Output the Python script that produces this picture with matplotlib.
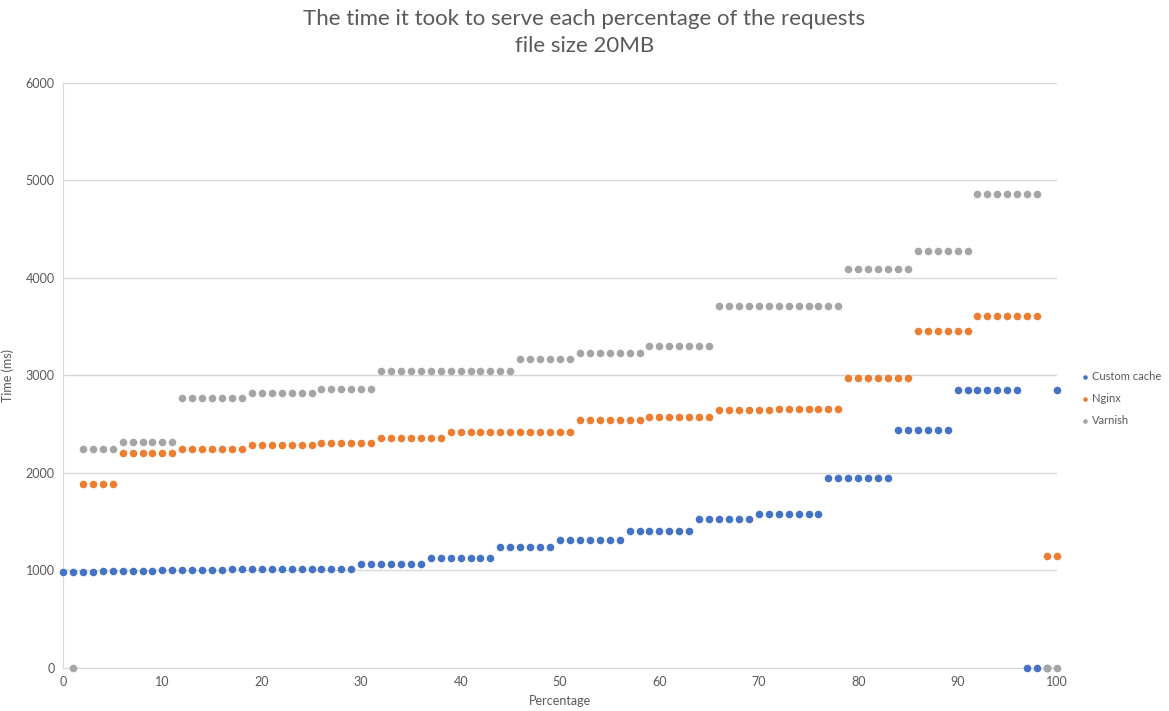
import numpy as np
import matplotlib.pyplot as plt

# percentage of requests (x axis)
percentage = list(range(0, 101))

# time in ms, one value per percentage (nan = no point)
nan = np.nan
custom_cache = [980, 980, 980, 980, 990, 990, 990, 990, 990, 990,
                1000, 1000, 1000, 1000, 1000, 1000, 1000, 1020, 1020, 1020,
                1020, 1020, 1020, 1020, 1020, 1020, 1020, 1020, 1020, 1020,
                1065, 1065, 1065, 1065, 1065, 1065, 1065, 1125, 1125, 1125,
                1125, 1125, 1125, 1125, 1240, 1240, 1240, 1240, 1240, 1240,
                1315, 1315, 1315, 1315, 1315, 1315, 1315, 1405, 1405, 1405,
                1405, 1405, 1405, 1405, 1530, 1530, 1530, 1530, 1530, 1530,
                1575, 1575, 1575, 1575, 1575, 1575, 1575, 1945, 1945, 1945,
                1945, 1945, 1945, 1945, 2445, 2445, 2445, 2445, 2445, 2445,
                2850, 2850, 2850, 2850, 2850, 2850, 2850, 0, 0, 0,
                2850]
nginx = [nan, nan, 1885, 1885, 1885, 1885, 2205, 2205, 2205, 2205,
         2205, 2205, 2245, 2245, 2245, 2245, 2245, 2245, 2245, 2290,
         2290, 2290, 2290, 2290, 2290, 2290, 2310, 2310, 2310, 2310,
         2310, 2310, 2360, 2360, 2360, 2360, 2360, 2360, 2360, 2425,
         2425, 2425, 2425, 2425, 2425, 2425, 2425, 2425, 2425, 2425,
         2425, 2425, 2540, 2540, 2540, 2540, 2540, 2540, 2540, 2570,
         2570, 2570, 2570, 2570, 2570, 2570, 2645, 2645, 2645, 2645,
         2645, 2645, 2655, 2655, 2655, 2655, 2655, 2655, 2655, 2975,
         2975, 2975, 2975, 2975, 2975, 2975, 3460, 3460, 3460, 3460,
         3460, 3460, 3615, 3615, 3615, 3615, 3615, 3615, 3615, 1150,
         1150]
varnish = [nan, 0, 2245, 2245, 2245, 2245, 2320, 2320, 2320, 2320,
           2320, 2320, 2765, 2765, 2765, 2765, 2765, 2765, 2765, 2820,
           2820, 2820, 2820, 2820, 2820, 2820, 2860, 2860, 2860, 2860,
           2860, 2860, 3045, 3045, 3045, 3045, 3045, 3045, 3045, 3045,
           3045, 3045, 3045, 3045, 3045, 3045, 3170, 3170, 3170, 3170,
           3170, 3170, 3235, 3235, 3235, 3235, 3235, 3235, 3235, 3305,
           3305, 3305, 3305, 3305, 3305, 3305, 3715, 3715, 3715, 3715,
           3715, 3715, 3715, 3715, 3715, 3715, 3715, 3715, 3715, 4090,
           4090, 4090, 4090, 4090, 4090, 4090, 4275, 4275, 4275, 4275,
           4275, 4275, 4865, 4865, 4865, 4865, 4865, 4865, 4865, 0,
           0]

series = [('Custom cache', custom_cache, '#4472C4'),
          ('Nginx', nginx, '#ED7D31'),
          ('Varnish', varnish, '#A5A5A5')]

plt.rcParams['font.family'] = ['Lato', 'DejaVu Sans']
txt = '#595959'

fig = plt.figure(figsize=(11.69, 7.11), dpi=100)
ax = fig.add_axes([0.0539, 0.0605, 0.8503, 0.8228])

for name, vals, col in series:
    ax.scatter(percentage, vals, s=30, color=col, label=name, clip_on=False,
               zorder=3, linewidths=0)

ax.set_xlim(0, 100)
ax.set_ylim(0, 6000)
ax.set_xticks(range(0, 101, 10))
ax.set_yticks(range(0, 6001, 1000))
ax.grid(axis='y', color='#D9D9D9', linewidth=1)
ax.set_axisbelow(True)
for s in ['top', 'right']:
    ax.spines[s].set_visible(False)
for s in ['left', 'bottom']:
    ax.spines[s].set_color('#D9D9D9')
ax.tick_params(length=0, labelsize=9, colors=txt, pad=6)
ax.set_xlabel('Percentage', fontsize=9, color=txt, labelpad=5)
ax.set_ylabel('Time (ms)', fontsize=9, color=txt, labelpad=8)

fig.suptitle('The time it took to serve each percentage of the requests\nfile size 20MB',
             fontsize=16, color=txt, y=0.988, linespacing=1.45)

fig.legend(loc='center left', bbox_to_anchor=(0.925, 0.44), frameon=False,
           fontsize=8, markerscale=0.6, handlelength=0.7, handletextpad=0.3,
           labelspacing=1.0, labelcolor=txt, borderaxespad=0, borderpad=0)

fig.savefig('out.png', dpi=100)
